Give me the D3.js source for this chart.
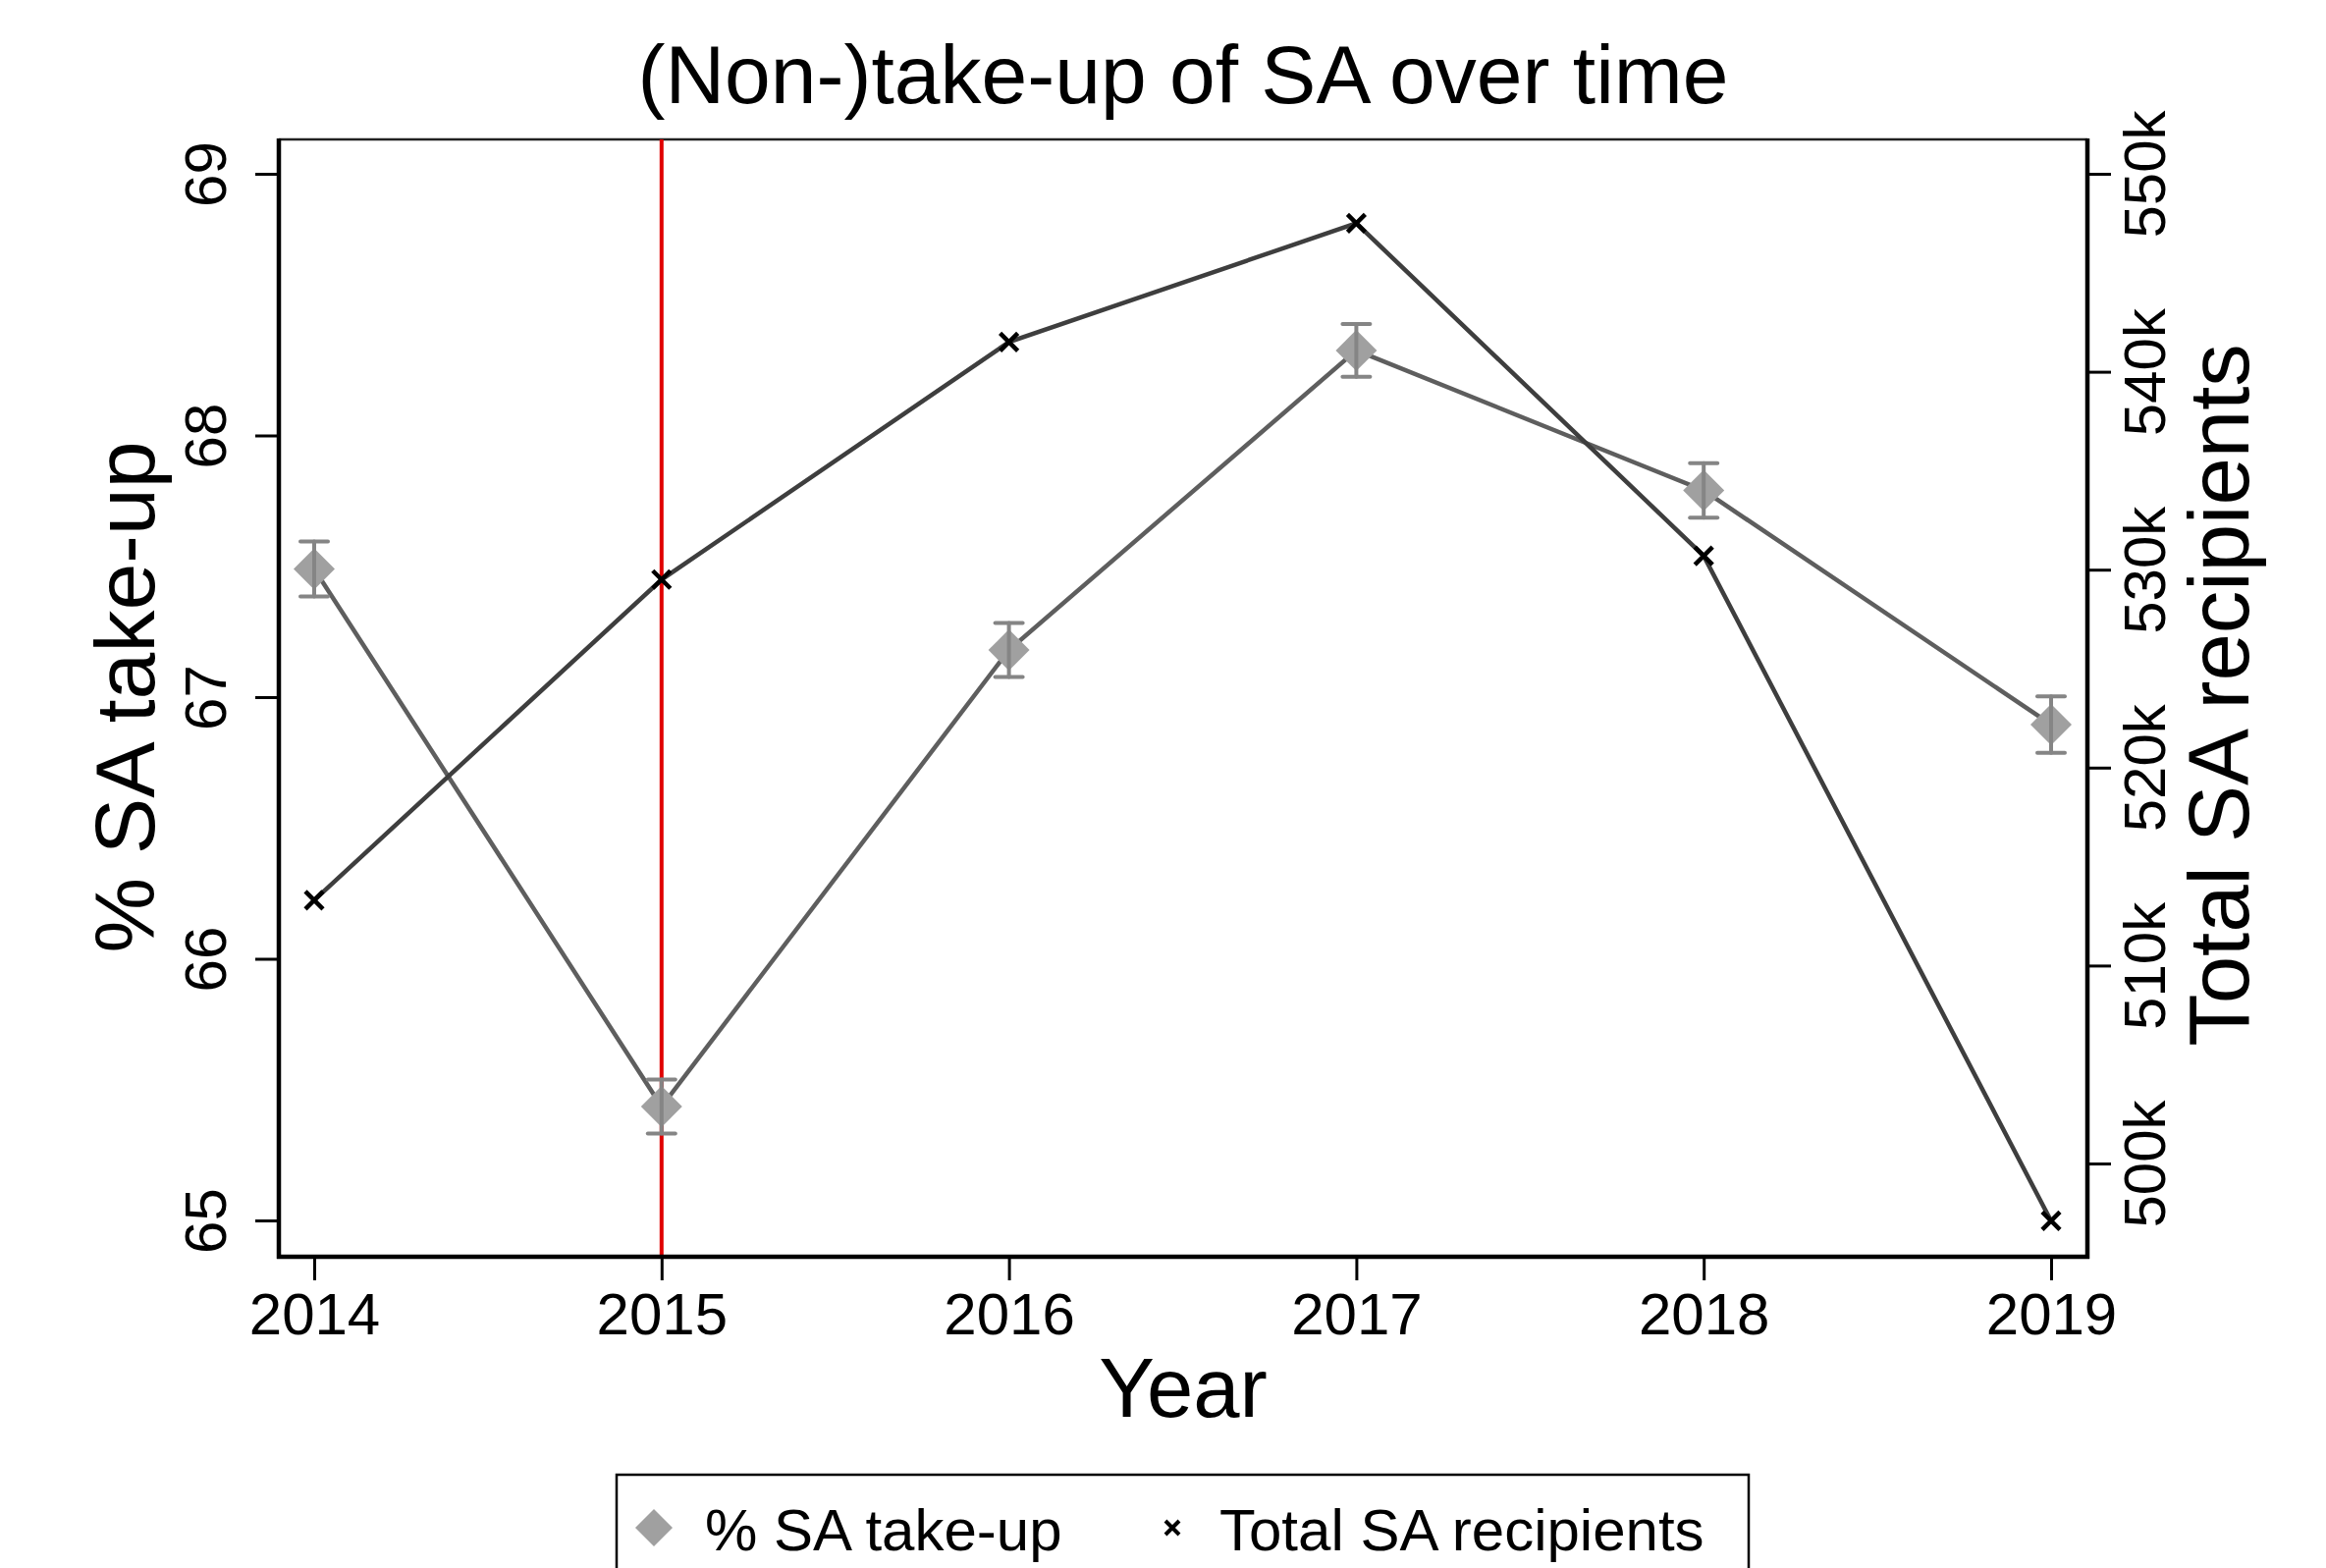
<!DOCTYPE html>
<html><head><meta charset="utf-8">
<script src="https://cdn.jsdelivr.net/npm/d3@7"></script>
<style>body{margin:0;background:#fff}svg{display:block}text{font-family:"Liberation Sans",Arial,sans-serif;fill:#000}</style>
</head><body>
<svg id="c" width="2369" height="1597"></svg>
<script>
const years = [2014, 2015, 2016, 2017, 2018, 2019];
const takeUp = [67.49, 65.435, 67.18, 68.325, 67.79, 66.895];
const takeUpErr = [0.105, 0.103, 0.103, 0.101, 0.104, 0.108];
const recipients = [513300, 529500, 541500, 547500, 530700, 497100];
const leftTicks = [65, 66, 67, 68, 69];
const rightTicks = [500000, 510000, 520000, 530000, 540000, 550000];
const reformYear = 2015;
const labels = {title: "(Non-)take-up of SA over time", yLeft: "% SA take-up", yRight: "Total SA recipients", x: "Year", s1: "% SA take-up", s2: "Total SA recipients"};

const svg = d3.select("#c");
const P = {l: 284, r: 2126, t: 142, b: 1280};
const x = d3.scaleLinear().domain([2014, 2019]).range([320, 2089]);
const yL = d3.scaleLinear().domain([65, 69]).range([1243, 177]);
const yR = d3.scaleLinear().domain([500000, 550000]).range([1185, 177]);

// frame top
svg.append("line").attr("x1", P.l).attr("x2", P.r).attr("y1", P.t).attr("y2", P.t).attr("stroke", "#222").attr("stroke-width", 2.5);

// red reference line
svg.append("line").attr("x1", x(reformYear)).attr("x2", x(reformYear)).attr("y1", P.t).attr("y2", P.b)
  .attr("stroke", "#e00000").attr("stroke-width", 4);

// take-up line
svg.append("path").datum(years.map((d, i) => [x(d), yL(takeUp[i])]))
  .attr("d", d3.line()).attr("fill", "none").attr("stroke", "#5e5e5e").attr("stroke-width", 4.5);
// recipients line
svg.append("path").datum(years.map((d, i) => [x(d), yR(recipients[i])]))
  .attr("d", d3.line()).attr("fill", "none").attr("stroke", "#3e3e3e").attr("stroke-width", 4.5);

// diamonds
svg.selectAll(".dm").data(years).enter().append("path")
  .attr("transform", (d, i) => `translate(${x(d)},${yL(takeUp[i])}) rotate(45)`)
  .attr("d", d3.symbol().type(d3.symbolSquare).size(880)())
  .attr("fill", "#a0a0a0");
// error bars
const eb = svg.append("g").attr("stroke", "#858585").attr("stroke-width", 4).attr("stroke-linecap", "round");
years.forEach((d, i) => {
  const cx = x(d), y1 = yL(takeUp[i] + takeUpErr[i]), y2 = yL(takeUp[i] - takeUpErr[i]);
  eb.append("line").attr("x1", cx).attr("x2", cx).attr("y1", y1).attr("y2", y2);
  eb.append("line").attr("x1", cx - 14).attr("x2", cx + 14).attr("y1", y1).attr("y2", y1);
  eb.append("line").attr("x1", cx - 14).attr("x2", cx + 14).attr("y1", y2).attr("y2", y2);
});
// crosses
svg.selectAll(".cx").data(years).enter().append("path")
  .attr("transform", (d, i) => `translate(${x(d)},${yR(recipients[i])})`)
  .attr("d", "M-9,-9L9,9M-9,9L9,-9").attr("stroke", "#000").attr("stroke-width", 4.5);

// axes
const axL = svg.append("g").attr("transform", `translate(${P.l},0)`)
  .call(d3.axisLeft(yL).tickValues(leftTicks).tickSize(24).tickPadding(0).tickFormat(d3.format("d")));
const axR = svg.append("g").attr("transform", `translate(${P.r},0)`)
  .call(d3.axisRight(yR).tickValues(rightTicks).tickSize(24).tickPadding(0).tickFormat(d => (d / 1000) + "k"));
const axB = svg.append("g").attr("transform", `translate(0,${P.b})`)
  .call(d3.axisBottom(x).tickValues(years).tickSize(24).tickPadding(0).tickFormat(d3.format("d")));
[axL, axR, axB].forEach(a => {
  a.select(".domain").remove();
  a.selectAll(".tick line").attr("stroke", "#000").attr("stroke-width", 3);
  a.selectAll(".tick text").attr("font-size", 60).attr("font-family", "Liberation Sans, Arial, sans-serif");
});
axL.selectAll(".tick text").attr("x", null).attr("dy", null).attr("text-anchor", "middle")
  .attr("transform", "translate(-54,0) rotate(-90)");
axR.selectAll(".tick text").attr("x", null).attr("dy", null).attr("text-anchor", "middle")
  .attr("transform", "translate(79,0) rotate(-90)");
axB.selectAll(".tick text").attr("y", 79).attr("dy", null);

// axis lines
svg.append("line").attr("x1", P.l).attr("x2", P.l).attr("y1", P.t - 1).attr("y2", P.b + 2).attr("stroke", "#000").attr("stroke-width", 4.5);
svg.append("line").attr("x1", P.r).attr("x2", P.r).attr("y1", P.t - 1).attr("y2", P.b + 2).attr("stroke", "#000").attr("stroke-width", 4.5);
svg.append("line").attr("x1", P.l - 2).attr("x2", P.r + 2).attr("y1", P.b).attr("y2", P.b).attr("stroke", "#000").attr("stroke-width", 4.5);

// titles
svg.append("text").attr("x", 1205).attr("y", 105).attr("text-anchor", "middle").attr("font-size", 84).text(labels.title);
svg.append("text").attr("transform", "translate(157,710) rotate(-90)").attr("text-anchor", "middle").attr("font-size", 86).text(labels.yLeft);
svg.append("text").attr("transform", "translate(2290,708) rotate(-90)").attr("text-anchor", "middle").attr("font-size", 87).text(labels.yRight);
svg.append("text").attr("x", 1205).attr("y", 1443).attr("text-anchor", "middle").attr("font-size", 85).text(labels.x);

// legend
const lg = svg.append("g");
lg.append("rect").attr("x", 628).attr("y", 1502).attr("width", 1153).attr("height", 140).attr("fill", "none").attr("stroke", "#000").attr("stroke-width", 2.5);
lg.append("path").attr("transform", "translate(666,1556) rotate(45)").attr("d", d3.symbol().type(d3.symbolSquare).size(720)()).attr("fill", "#a0a0a0");
lg.append("text").attr("x", 718).attr("y", 1579).attr("font-size", 60).text(labels.s1);
lg.append("path").attr("transform", "translate(1194,1556)").attr("d", "M-7,-7L7,7M-7,7L7,-7").attr("stroke", "#000").attr("stroke-width", 4);
lg.append("text").attr("x", 1242).attr("y", 1579).attr("font-size", 60).text(labels.s2);
</script>
</body></html>
